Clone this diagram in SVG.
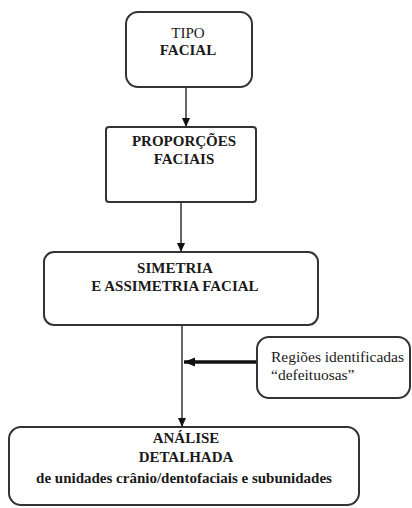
<svg xmlns="http://www.w3.org/2000/svg" width="412" height="508" viewBox="0 0 412 508">
<style>
.box{fill:#fff;stroke:#333;stroke-width:2}
.t{font-family:'Liberation Serif','Times New Roman','DejaVu Serif',serif;font-size:15px;fill:#1a1a1a;text-anchor:middle}
.b{font-weight:bold}
.r{font-family:'Liberation Serif','Times New Roman','DejaVu Serif',serif;font-size:15.5px;fill:#1a1a1a}
.ln{stroke:#333;stroke-width:1.5;fill:none}
</style>
<defs>
<marker id="ah" markerWidth="10" markerHeight="10" refX="9" refY="5" orient="auto" markerUnits="userSpaceOnUse">
<path d="M0,1 L9,5 L0,9 Z" fill="#111"/>
</marker>
<marker id="ah2" markerWidth="12" markerHeight="10" refX="11" refY="5" orient="auto" markerUnits="userSpaceOnUse">
<path d="M0,0.5 L11,5 L0,9.5 Z" fill="#111"/>
</marker>
</defs>
<rect width="412" height="508" fill="#fff"/>
<g id="connectors">
<line class="ln" x1="186" y1="87" x2="186" y2="127" marker-end="url(#ah)"/>
<line class="ln" x1="181" y1="202" x2="181" y2="252" marker-end="url(#ah)"/>
<line class="ln" x1="182" y1="325" x2="182" y2="427" marker-end="url(#ah)"/>
<line x1="256" y1="362" x2="184" y2="362" stroke="#111" stroke-width="3.5" marker-end="url(#ah2)"/>
</g>
<g id="tipo">
<rect class="box" x="126" y="12" width="126" height="75" rx="12"/>
<text class="t" x="188" y="38" font-family="Liberation Serif, serif">TIPO</text>
<text class="t b" x="188" y="55">FACIAL</text>
</g>
<g id="proporcoes">
<rect class="box" x="106" y="127" width="150" height="75" rx="3"/>
<text class="t b" x="184" y="146">PROPORÇÕES</text>
<text class="t b" x="184" y="164">FACIAIS</text>
</g>
<g id="simetria">
<rect class="box" x="44" y="252" width="274" height="73" rx="10"/>
<text class="t b" x="175" y="273">SIMETRIA</text>
<text class="t b" x="175" y="291">E ASSIMETRIA FACIAL</text>
</g>
<g id="regioes">
<rect class="box" x="257" y="337" width="153" height="61" rx="12"/>
<text class="r" x="271" y="362">Regiões identificadas</text>
<text class="r" x="271" y="380">“defeituosas”</text>
</g>
<g id="analise">
<rect class="box" x="9" y="427" width="350" height="78" rx="12"/>
<text class="t b" x="186" y="443">ANÁLISE</text>
<text class="t b" x="186" y="462">DETALHADA</text>
<text class="t b" x="184" y="483">de unidades crânio/dentofaciais e subunidades</text>
</g>
</svg>
